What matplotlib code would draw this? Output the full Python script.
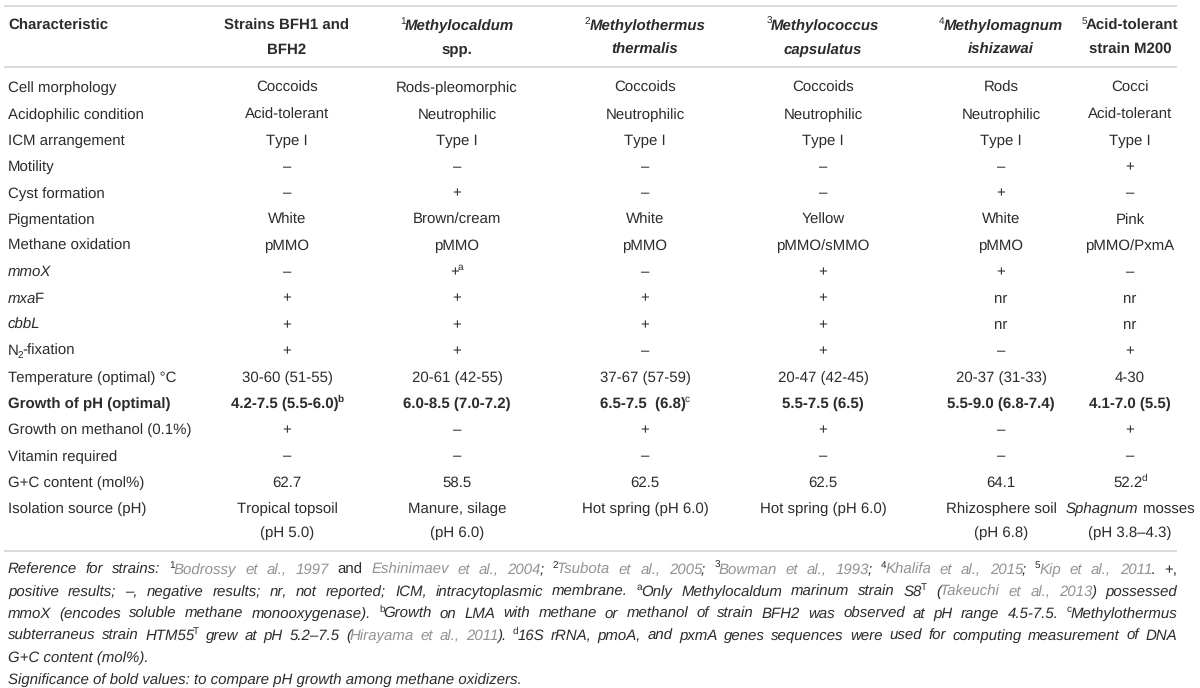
import re
import matplotlib
matplotlib.use("Agg")
import matplotlib.pyplot as plt

# ---------------- data ----------------
header_characteristic = ["<b>Characteristic</b>"]
header_bfh = ["<b>Strains BFH1 and</b>", "<b>BFH2</b>"]
header_methylocaldum = ["<sup>1</sup><b><i>Methylocaldum</i></b>", "<b>spp.</b>"]
header_methylothermus = ["<sup>2</sup><b><i>Methylothermus</i></b>", "<b><i>thermalis</i></b>"]
header_methylococcus = ["<sup>3</sup><b><i>Methylococcus</i></b>", "<b><i>capsulatus</i></b>"]
header_methylomagnum = ["<sup>4</sup><b><i>Methylomagnum</i></b>", "<b><i>ishizawai</i></b>"]
header_m200 = ["<sup>5</sup><b>Acid-tolerant</b>", "<b>strain M200</b>"]

characteristics = [
    "Cell morphology", "Acidophilic condition", "ICM arrangement", "Motility",
    "Cyst formation", "Pigmentation", "Methane oxidation", "<i>mmoX</i>",
    "<i>mxa</i>F", "<i>cbbL</i>", "N<sub>2</sub>-fixation",
    "Temperature (optimal) °C", "<b>Growth of pH (optimal)</b>",
    "Growth on methanol (0.1%)", "Vitamin required", "G+C content (mol%)",
    "Isolation source (pH)",
]
strains_bfh = [
    "Coccoids", "Acid-tolerant", "Type I", "–", "–", "White", "pMMO", "–", "+", "+", "+",
    "30-60 (51-55)", "<b>4.2-7.5 (5.5-6.0)</b><b><sup>b</sup></b>", "+", "–", "62.7",
    "Tropical topsoil|(pH 5.0)",
]
methylocaldum = [
    "Rods-pleomorphic", "Neutrophilic", "Type I", "–", "+", "Brown/cream", "pMMO",
    "+<sup>a</sup>", "+", "+", "+", "20-61 (42-55)", "<b>6.0-8.5 (7.0-7.2)</b>", "–", "–",
    "58.5", "Manure, silage|(pH 6.0)",
]
methylothermus = [
    "Coccoids", "Neutrophilic", "Type I", "–", "–", "White", "pMMO", "–", "+", "+", "–",
    "37-67 (57-59)", "<b>6.5-7.5  (6.8)</b><sup>c</sup>", "+", "–", "62.5",
    "Hot spring (pH 6.0)",
]
methylococcus = [
    "Coccoids", "Neutrophilic", "Type I", "–", "–", "Yellow", "pMMO/sMMO", "+", "+", "+", "+",
    "20-47 (42-45)", "<b>5.5-7.5 (6.5)</b>", "+", "–", "62.5", "Hot spring (pH 6.0)",
]
methylomagnum = [
    "Rods", "Neutrophilic", "Type I", "–", "+", "White", "pMMO", "+", "nr", "nr", "–",
    "20-37 (31-33)", "<b>5.5-9.0 (6.8-7.4)</b>", "–", "–", "64.1",
    "Rhizosphere soil|(pH 6.8)",
]
m200 = [
    "Cocci", "Acid-tolerant", "Type I", "+", "–", "Pink", "pMMO/PxmA", "–", "nr", "nr", "+",
    "4-30", "<b>4.1-7.0 (5.5)</b>", "+", "–", "52.2<sup>d</sup>",
    "<i>Sphagnum</i> mosses|(pH 3.8–4.3)",
]

footnotes = [
    "<i>Reference for strains: </i><sup>1</sup><g><i>Bodrossy et al., 1997</i></g> and "
    "<g><i>Eshinimaev et al., 2004</i></g><i>; </i><sup>2</sup><g><i>Tsubota et al., 2005</i></g><i>; </i>"
    "<sup>3</sup><g><i>Bowman et al., 1993</i></g><i>; </i><sup>4</sup><g><i>Khalifa et al., 2015</i></g><i>; </i>"
    "<sup>5</sup><g><i>Kip et al., 2011</i></g>. +,",
    "<i>positive results; –, negative results; nr, not reported; ICM, intracytoplasmic membrane. </i>"
    "<sup>a</sup><i>Only Methylocaldum marinum strain S8</i><sup>T</sup> <i>(</i><g><i>Takeuchi et al., 2013</i></g>"
    "<i>) possessed</i>",
    "<i>mmoX (encodes soluble methane monooxygenase). </i><sup>b</sup><i>Growth on LMA with methane or "
    "methanol of strain BFH2 was observed at pH range 4.5-7.5. </i><sup>c</sup><i>Methylothermus</i>",
    "<i>subterraneus strain HTM55</i><sup>T</sup><i> grew at pH 5.2–7.5 (</i><g><i>Hirayama et al., 2011</i></g>"
    "<i>). </i><sup>d</sup><i>16S rRNA, pmoA, and pxmA genes sequences were used for computing measurement of DNA</i>",
    "<i>G+C content (mol%).</i>",
    "<i>Significance of bold values: to compare pH growth among methane oxidizers.</i>",
]
footnote_justified = [True, True, True, True, False, False]

columns = [strains_bfh, methylocaldum, methylothermus, methylococcus, methylomagnum, m200]
headers = [header_bfh, header_methylocaldum, header_methylothermus,
           header_methylococcus, header_methylomagnum, header_m200]

# ---------------- layout / style ----------------
FONT = ["Liberation Sans", "DejaVu Sans"]
plt.rcParams["font.family"] = FONT
plt.rcParams["text.hinting"] = "none"
plt.rcParams["text.hinting_factor"] = 1
TEXT = "#2e2b2c"
GRAY = "#939393"
RULE = "#d8d8d8"
W, H = 1200, 688
RULE_L, RULE_R = 4, 1177
LEFT = 8
col_x = [287, 457, 645, 823, 1001, 1130]
BODY = 11.0
FOOT = 10.9
row0, row_step = 87, 26.3
second_line = 24
header_y = 25
foot_y = [569, 591.5, 613.5, 635.5, 657.5, 679.5]
RUN_KERN = -1.2

fig = plt.figure(figsize=(W / 100, H / 100), dpi=100)
ax = fig.add_axes([0, 0, 1, 1])
ax.set_xlim(0, W)
ax.set_ylim(H, 0)
ax.axis("off")
renderer = fig.canvas.get_renderer()

TAG = re.compile(r"(</?(?:i|b|sup|sub|g)>)")


def parse(markup):
    state = set()
    runs = []
    for tok in TAG.split(markup):
        if not tok:
            continue
        m = re.fullmatch(r"<(/?)(i|b|sup|sub|g)>", tok)
        if m:
            if m.group(1):
                state.discard(m.group(2))
            else:
                state.add(m.group(2))
        else:
            runs.append((tok, frozenset(state)))
    return runs


def props(style, size):
    small = ("sup" in style) or ("sub" in style)
    return dict(fontsize=size * 0.68 if small else size,
                family=FONT,
                fontstyle="italic" if "i" in style else "normal",
                fontweight="bold" if "b" in style else "normal",
                color=GRAY if "g" in style else TEXT)


_cache = {}


def text_width(s, p):
    key = (s, tuple(sorted((k, str(v)) for k, v in p.items())))
    if key not in _cache:
        t = ax.text(0, 0, s, **p)
        _cache[key] = t.get_window_extent(renderer).width
        t.remove()
    return _cache[key]


def space_width(p):
    return text_width("n n", p) - text_width("n", p) * 2


def draw_line(markup, x, y, size, align="left", justify=None):
    items = []
    for txt, style in parse(markup):
        p = props(style, size)
        if justify is not None:
            parts = re.split(r"( )", txt)
        else:
            lead = txt[:len(txt) - len(txt.lstrip(" "))]
            trail = txt[len(txt.rstrip(" ")):]
            core = txt.strip(" ")
            parts = list(lead) + ([core] if core else []) + list(trail)
        for part in parts:
            if part == "":
                continue
            if part == " ":
                items.append(["sp", None, p, style, space_width(p)])
            else:
                w = text_width(part, p)
                if items and items[-1][0] == "w":
                    items[-1][4] += RUN_KERN
                items.append(["w", part, p, style, w])
    total = sum(it[4] for it in items)
    nsp = sum(1 for it in items if it[0] == "sp")
    extra = 0.0
    if justify is not None and nsp:
        extra = (justify - total) / nsp
        total = justify
    if align == "center":
        cx = x - total / 2
    elif align == "right":
        cx = x - total
    else:
        cx = x
    px = size * 100 / 72
    for kind, part, p, style, w in items:
        if kind == "sp":
            cx += w + extra
            continue
        dy = 0
        if "sup" in style:
            dy = -0.40 * px
        elif "sub" in style:
            dy = 0.17 * px
        ax.text(cx, y + dy, part, ha="left", va="baseline", **p)
        cx += w


def baseline(center):
    return center + 5.2


# rules
for yy in (6, 67, 551):
    ax.plot([RULE_L, RULE_R], [yy, yy], color=RULE, lw=1.3, solid_capstyle="butt")

# header
draw_line(header_characteristic[0], LEFT, baseline(header_y), BODY)
for cx, lines in zip(col_x, headers):
    for j, ln in enumerate(lines):
        draw_line(ln, cx, baseline(header_y + j * second_line), BODY, align="center")

# body
for k, name in enumerate(characteristics):
    yc = row0 + row_step * k
    draw_line(name, LEFT, baseline(yc), BODY)
    for cx, col in zip(col_x, columns):
        for j, ln in enumerate(col[k].split("|")):
            draw_line(ln, cx, baseline(yc + j * second_line), BODY, align="center")

# footnotes
for fy, fn, just in zip(foot_y, footnotes, footnote_justified):
    draw_line(fn, LEFT, baseline(fy) - 0.5, FOOT,
              justify=(RULE_R - LEFT) if just else None)

fig.savefig("out.png", dpi=100)
